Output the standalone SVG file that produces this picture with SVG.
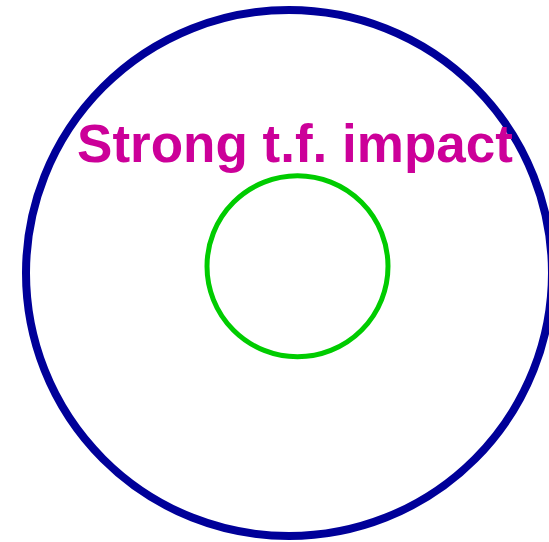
<svg xmlns="http://www.w3.org/2000/svg" width="549" height="542" viewBox="0 0 549 542">
<style>
.ring{fill:none}
.label{font-family:"Liberation Sans",Arial,sans-serif;font-weight:bold;fill:#CC0099}
</style>
<rect width="549" height="542" fill="#ffffff"/>
<g id="outer">
<circle class="ring" cx="289" cy="273" r="263" stroke="#000099" stroke-width="8"/>
</g>
<g id="inner">
<circle class="ring" cx="297.5" cy="266.3" r="90.5" stroke="#00CC00" stroke-width="5"/>
</g>
<g id="title">
<text class="label" x="295" y="161.5" font-size="53" text-anchor="middle">Strong t.f. impact</text>
</g>
</svg>
